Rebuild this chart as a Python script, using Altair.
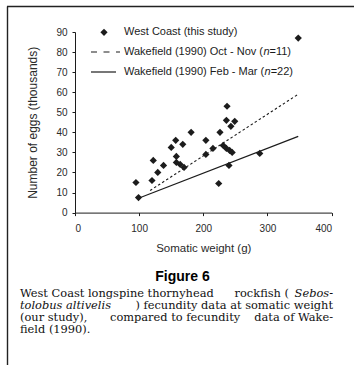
import altair as alt
import pandas as pd

# West Coast longspine thornyhead rockfish: somatic weight (g) vs fecundity (thousands of eggs)
somatic_weight = [95, 99, 120, 122, 129, 138, 150, 157, 158, 158,
                  164, 168, 170, 181, 204, 204, 215, 226, 237, 236,
                  243, 249, 231, 236, 241, 245, 240, 224, 288, 348]
eggs_thousands = [15, 7.5, 16, 26, 20, 23.5, 32.5, 36, 28, 25,
                  24, 34, 22.5, 40, 36, 29, 32, 40, 53, 46,
                  43, 45.5, 33.5, 32, 31, 30, 23.5, 14.5, 29.5, 87]

# Wakefield (1990) fecundity relationships (end points of each fitted line)
oct_nov_weight = [117, 348]
oct_nov_eggs = [11, 59]
feb_mar_weight = [98, 348]
feb_mar_eggs = [7, 38]

x_ticks = [0, 100, 200, 300, 400]
y_ticks = [0, 10, 20, 30, 40, 50, 60, 70, 80, 90]

scatter_df = pd.DataFrame({"weight": somatic_weight, "eggs": eggs_thousands})
oct_df = pd.DataFrame({"weight": oct_nov_weight, "eggs": oct_nov_eggs})
feb_df = pd.DataFrame({"weight": feb_mar_weight, "eggs": feb_mar_eggs})

INK = "#1c1c1c"
SANS = "Liberation Sans"
SERIF = "DejaVu Serif"

x_enc = alt.X(
    "weight:Q",
    scale=alt.Scale(domain=[0, 400], nice=False),
    axis=alt.Axis(
        values=x_ticks, title="Somatic weight (g)", grid=False,
        tickSize=3, labelPadding=8, labelFontSize=10, labelOverlap=False,
        titleX=128.3, titleY=39, titleAlign="center", titleBaseline="alphabetic",
        titleFontSize=11.5,
    ),
)
y_enc = alt.Y(
    "eggs:Q",
    scale=alt.Scale(domain=[0, 90], nice=False),
    axis=alt.Axis(
        values=y_ticks, tickCount=10, title="Number of eggs (thousands)",
        grid=False, tickSize=3, labelPadding=5, labelFontSize=10, labelOverlap=False,
        titleAngle=270, titleX=-39, titleY=90.3, titleAlign="center",
        titleBaseline="alphabetic", titleFontSize=12,
    ),
)

points = alt.Chart(scatter_df).mark_point(
    shape="diamond", filled=True, size=52, color=INK, opacity=1
).encode(x=x_enc, y=y_enc)

oct_line = alt.Chart(oct_df).mark_line(
    color=INK, strokeWidth=1.1, strokeDash=[2.5, 2.3]
).encode(x="weight:Q", y="eggs:Q")

feb_line = alt.Chart(feb_df).mark_line(
    color=INK, strokeWidth=1.2
).encode(x="weight:Q", y="eggs:Q")

one = alt.Data(values=[{}])


def label(text, x, y, **kw):
    style = dict(align="left", baseline="middle", font=SANS, fontSize=11, color=INK)
    style.update(kw)
    return alt.Chart(one).mark_text(**style).encode(
        x=alt.value(x), y=alt.value(y), text=alt.value(text)
    )


# legend
legend = [
    alt.Chart(one).mark_point(shape="diamond", filled=True, size=52, color=INK, opacity=1)
    .encode(x=alt.value(29), y=alt.value(0.3)),
    label("West Coast (this study)", 49, 0.3),
    alt.Chart(one).mark_rule(color=INK, strokeWidth=1.1, strokeDash=[6, 6.5])
    .encode(x=alt.value(16), x2=alt.value(45), y=alt.value(20)),
    label("Wakefield (1990) Oct - Nov (", 49, 20),
    label("n", 188.4, 20, fontStyle="italic"),
    label("=11)", 194.5, 20),
    alt.Chart(one).mark_rule(color=INK, strokeWidth=1.2)
    .encode(x=alt.value(16), x2=alt.value(41), y=alt.value(40)),
    label("Wakefield (1990) Feb - Mar (", 49, 40),
    label("n", 189.6, 40, fontStyle="italic"),
    label("=22)", 195.7, 40),
]

# figure caption, set justified: pieces anchored along each line
cap = dict(font=SERIF, fontSize=11.4, baseline="alphabetic", color="#111")
caption = [
    label("Figure 6", 107.5, 249, align="center", baseline="alphabetic",
          fontSize=14, fontWeight="bold", color="#000"),
    label("West Coast longspine thornyhead", -55, 264.5, **cap),
    label("rockfish (", 214, 264.5, align="right", **cap),
    label("Sebos-", 258, 264.5, align="right", fontStyle="italic", **cap),
    label("tolobus altivelis", -55, 276.7, fontStyle="italic", **cap),
    label(") fecundity data at somatic weight", 258, 276.7, align="right", **cap),
    label("(our study),", -55, 288.9, **cap),
    label("compared to fecundity", 35, 288.9, **cap),
    label("data of Wake-", 258, 288.9, align="right", **cap),
    label("field (1990).", -55, 301.1, **cap),
]

# page frame (top and left edges)
frame = [
    alt.Chart(one).mark_rule(color="#222", strokeWidth=1.4)
    .encode(x=alt.value(-67.5), y=alt.value(-25.5), y2=alt.value(333)),
    alt.Chart(one).mark_rule(color="#222", strokeWidth=1.4)
    .encode(x=alt.value(-68), x2=alt.value(279), y=alt.value(-25.5)),
]

chart = alt.layer(
    feb_line, oct_line, points, *legend, *caption, *frame
).properties(
    width=256.6,
    height=180.6,
    padding={"left": 75, "top": 32, "right": 22.4, "bottom": 152.4},
    autosize=alt.AutoSizeParams(type="none"),
    background="white",
).configure_view(
    stroke=None
).configure_axis(
    domainColor=INK, tickColor=INK, domainWidth=1, tickWidth=1,
    labelFont=SANS, labelColor="#2a2a2a", titleFont=SANS, titleColor="#2a2a2a",
    titleFontWeight="normal",
)

chart.save("out.html", embed_options={"renderer": "svg", "actions": False})
